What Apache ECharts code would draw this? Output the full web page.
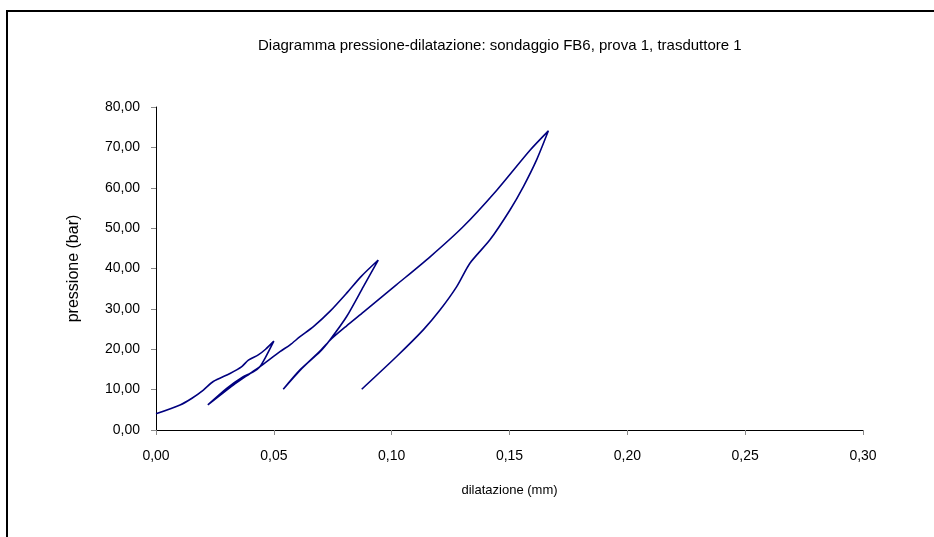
<!DOCTYPE html>
<html>
<head>
<meta charset="utf-8">
<script src="https://cdn.jsdelivr.net/npm/echarts@6/dist/echarts.min.js"></script>
<style>
html,body{margin:0;padding:0;background:#fff;}
#chart{width:934px;height:537px;}
</style>
</head>
<body>
<div id="chart"></div>
<script>
const titleText = 'Diagramma pressione-dilatazione: sondaggio FB6, prova 1, trasduttore 1';
const xName = 'dilatazione (mm)';
const yName = 'pressione (bar)';
const xTicks = [0, 0.05, 0.10, 0.15, 0.20, 0.25, 0.30];
const yTicks = [0, 10, 20, 30, 40, 50, 60, 70, 80];

// dilatazione (mm), in test order (loading / unloading cycles)
const dilatazione = [
  0.0000, 0.0102, 0.0151, 0.0201, 0.0243, 0.0314, 0.0364, 0.0392, 0.0434, 0.0465, 0.0500,
  0.0463, 0.0441, 0.0413, 0.0370, 0.0300, 0.0220,
  0.0328, 0.0399, 0.0441, 0.0526, 0.0569, 0.0611, 0.0668, 0.0740, 0.0809, 0.0870, 0.0943,
  0.0880, 0.0809, 0.0738, 0.0696, 0.0611, 0.0540,
  0.0620, 0.0700, 0.0745, 0.0809, 0.0880, 0.1021, 0.1163, 0.1304, 0.1446, 0.1587, 0.1665,
  0.1615, 0.1559, 0.1502, 0.1417, 0.1332, 0.1276, 0.1205, 0.1134, 0.1021, 0.0873
];
// pressione (bar)
const pressione = [
  4.0, 6.2, 7.8, 9.9, 12.0, 14.0, 15.7, 17.3, 18.6, 20.0, 22.0,
  17.8, 15.7, 14.4, 13.2, 10.3, 6.2,
  11.1, 14.0, 15.7, 19.4, 21.1, 23.1, 25.6, 29.5, 33.9, 38.0, 42.1,
  35.5, 28.1, 22.3, 19.4, 14.9, 10.1,
  15.3, 19.8, 22.6, 25.8, 29.2, 36.0, 42.9, 50.4, 59.4, 69.3, 74.1,
  66.9, 60.3, 54.5, 47.1, 41.3, 35.5, 29.7, 24.8, 18.2, 10.1
];

const points = dilatazione.map((d, i) => [d, pressione[i]]);
const fmt = (v, n) => v.toFixed(n).replace('.', ',');
const FONT = 'Liberation Sans, Arial, sans-serif';

const chart = echarts.init(document.getElementById('chart'), null, {renderer: 'canvas'});
chart.setOption({
  backgroundColor: '#fff',
  animation: false,
  title: {
    text: titleText,
    left: 253, top: 33,
    textStyle: {fontFamily: FONT, fontSize: 15, fontWeight: 'normal', color: '#000'}
  },
  graphic: [{
    type: 'rect', silent: true,
    shape: {x: 7, y: 11, width: 1000, height: 1000},
    style: {fill: null, stroke: '#000', lineWidth: 2}
  }],
  grid: {left: 156, top: 107, right: 71, bottom: 107},
  xAxis: {
    type: 'value', min: xTicks[0], max: xTicks[xTicks.length - 1], interval: 0.05,
    name: xName, nameLocation: 'middle', nameGap: 54,
    nameTextStyle: {fontFamily: FONT, fontSize: 13, color: '#000'},
    axisLine: {show: true, lineStyle: {color: '#000', width: 1}},
    axisTick: {show: true, length: 5, lineStyle: {color: '#888'}},
    splitLine: {show: false},
    axisLabel: {fontFamily: FONT, fontSize: 14, color: '#000', margin: 19, formatter: v => fmt(v, 2)}
  },
  yAxis: {
    type: 'value', min: yTicks[0], max: yTicks[yTicks.length - 1], interval: 10,
    name: yName, nameLocation: 'middle', nameGap: 74, nameRotate: 90,
    nameTextStyle: {fontFamily: FONT, fontSize: 16, color: '#000'},
    axisLine: {show: true, lineStyle: {color: '#000', width: 1}},
    axisTick: {show: true, length: 5, lineStyle: {color: '#888'}},
    splitLine: {show: false},
    axisLabel: {fontFamily: FONT, fontSize: 14, color: '#000', margin: 16, formatter: v => fmt(v, 2)}
  },
  series: [{
    type: 'line', data: points, showSymbol: false, smooth: 0.25,
    lineStyle: {color: '#00007f', width: 1.6}
  }]
});
</script>
</body>
</html>
